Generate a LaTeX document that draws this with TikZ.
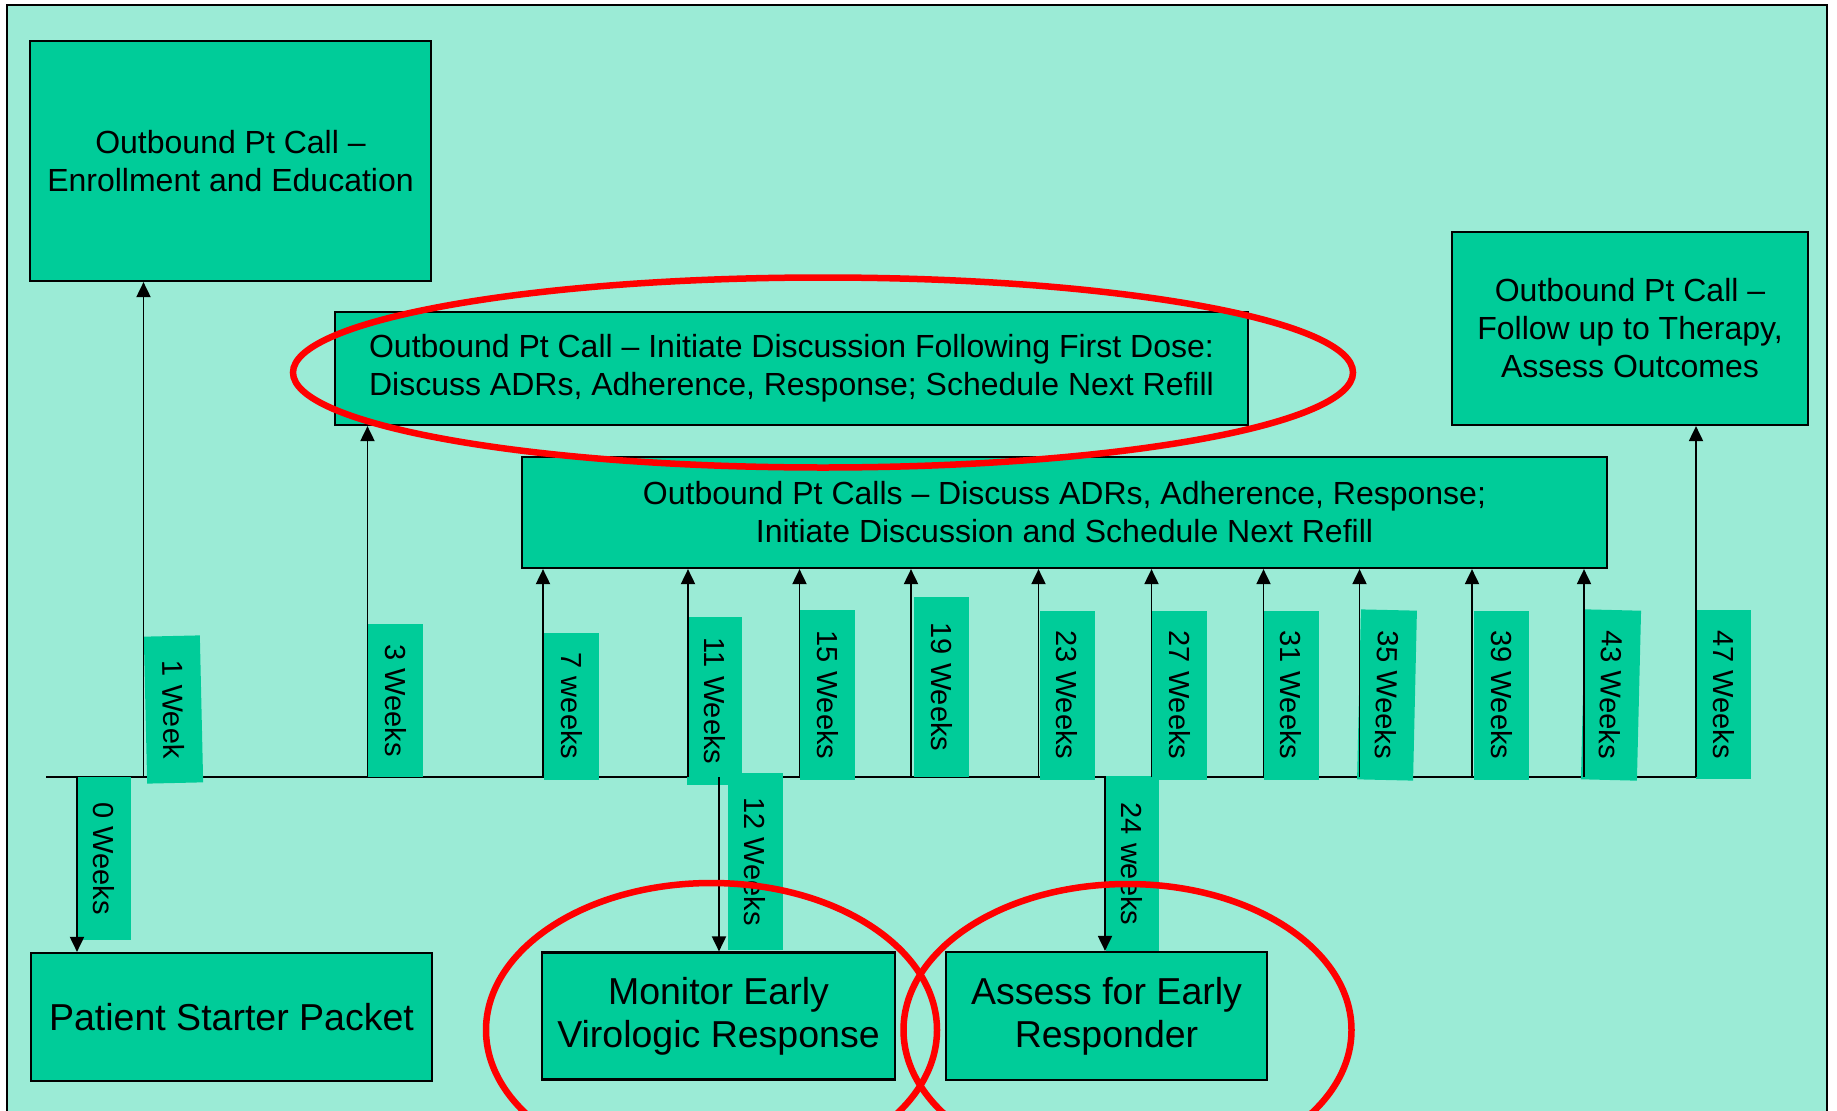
\documentclass[tikz,border=0pt]{standalone}
\usepackage{fontspec}
\setmainfont{Liberation Sans}
\usetikzlibrary{arrows.meta}
\definecolor{panel}{RGB}{155,235,214}
\definecolor{boxfill}{RGB}{0,204,153}
\begin{document}
\begin{tikzpicture}[x=1pt,y=-1pt,
  box/.style={draw=black, line width=2.2pt, fill=boxfill, align=center, inner sep=0pt,
    font=\fontsize{32}{38}\selectfont},
  bigbox/.style={box, font=\fontsize{37.5}{43}\selectfont},
  wk/.style={fill=boxfill, inner sep=0pt, minimum height=55pt,
    font=\fontsize{29}{30}\selectfont},
  arr/.style={line width=1.9pt, -{Triangle[length=15pt,width=14pt]}},
  ring/.style={draw=red, line width=6.5pt}]

\useasboundingbox (0,0) rectangle (1837,1111);
\clip (0,0) rectangle (1837,1111);
\fill[white] (0,0) rectangle (1837,1111);
\draw[line width=2.5pt, fill=panel] (7,5) rectangle (1827,1140);

% timeline
\coordinate (tlA) at (46,777);
\coordinate (tlB) at (1696,777);
\draw[line width=2.5pt] (tlA) -- (tlB);

% points on the timeline
\coordinate (t0)  at (77,777);
\coordinate (t1)  at (143.5,777);
\coordinate (t3)  at (367.5,777);
\coordinate (t7)  at (543,777);
\coordinate (t11) at (688,777);
\coordinate (t12) at (719,777);
\coordinate (t15) at (799.5,777);
\coordinate (t19) at (911,777);
\coordinate (t23) at (1038.5,777);
\coordinate (t24) at (1105,777);
\coordinate (t27) at (1151.5,777);
\coordinate (t31) at (1263.5,777);
\coordinate (t35) at (1359.5,777);
\coordinate (t39) at (1472,777);
\coordinate (t43) at (1584,777);
\coordinate (t47) at (1696,777);

% week labels
\node[wk, rotate=-90,   minimum width=163pt, minimum height=54pt] (w0)  at (104,858.5)  {0 Weeks};
\node[wk, rotate=-88.7, minimum width=147pt, minimum height=56pt] (w1)  at (173.5,709.5) {1 Week};
\node[wk, rotate=-90,   minimum width=153pt] (w3)  at (395.5,700.5) {3 Weeks};
\node[wk, rotate=-90,   minimum width=147pt] (w7)  at (571.5,706)   {7 weeks};
\node[wk, rotate=-90,   minimum width=168pt] (w11) at (714.5,701)   {11 Weeks};
\node[wk, rotate=-90,   minimum width=177pt] (w12) at (755,861.5)   {12 Weeks};
\node[wk, rotate=-90,   minimum width=170pt] (w15) at (827.5,695)   {15 Weeks};
\node[wk, rotate=-90,   minimum width=180pt] (w19) at (941.5,687)   {19 Weeks};
\node[wk, rotate=-90,   minimum width=169pt] (w23) at (1067,695)    {23 Weeks};
\node[wk, rotate=-90,   minimum width=176pt, minimum height=53pt] (w24) at (1132,864) {24 weeks};
\node[wk, rotate=-90,   minimum width=169pt] (w27) at (1179.5,695)  {27 Weeks};
\node[wk, rotate=-90,   minimum width=169pt] (w31) at (1291,695)    {31 Weeks};
\node[wk, rotate=-91.3, minimum width=170pt, minimum height=56pt] (w35) at (1387,695) {35 Weeks};
\node[wk, rotate=-90,   minimum width=169pt] (w39) at (1501.5,695)  {39 Weeks};
\node[wk, rotate=-91.4, minimum width=170pt, minimum height=56pt] (w43) at (1611,695) {43 Weeks};
\node[wk, rotate=-90,   minimum width=169pt] (w47) at (1723.5,694.5) {47 Weeks};

% activity boxes
\node[box, minimum width=401pt, minimum height=240pt] (enr) at (230.5,161)
  {Outbound Pt Call --\\Enrollment and Education};
\node[bigbox, minimum width=401pt, minimum height=128pt] (psp) at (231.5,1017)
  {Patient Starter Packet};
\node[box, minimum width=913pt, minimum height=113pt] (fd) at (791.5,368.5)
  {Outbound Pt Call -- Initiate Discussion Following First Dose:\\Discuss ADRs, Adherence, Response; Schedule Next Refill};
\node[box, minimum width=1085pt, minimum height=111pt] (calls) at (1064.5,512.5)
  {Outbound Pt Calls -- Discuss ADRs, Adherence, Response;\\Initiate Discussion and Schedule Next Refill};
\node[box, minimum width=356pt, minimum height=193pt] (fu) at (1630,328.5)
  {Outbound Pt Call --\\Follow up to Therapy,\\Assess Outcomes};
\node[bigbox, minimum width=353pt, minimum height=127pt] (mon) at (718.5,1016)
  {Monitor Early\\Virologic Response};
\node[bigbox, minimum width=321pt, minimum height=128pt] (ass) at (1106.5,1016)
  {Assess for Early\\Responder};

% connectors
\draw[arr] (t0)  -- (t0 |- psp.north);
\draw[arr] (t1)  -- (t1 |- enr.south);
\draw[arr] (t3)  -- (t3 |- fd.south);
\draw[arr] (t7)  -- (t7 |- calls.south);
\draw[arr] (t11) -- (t11 |- calls.south);
\draw[arr] (t15) -- (t15 |- calls.south);
\draw[arr] (t19) -- (t19 |- calls.south);
\draw[arr] (t23) -- (t23 |- calls.south);
\draw[arr] (t27) -- (t27 |- calls.south);
\draw[arr] (t31) -- (t31 |- calls.south);
\draw[arr] (t35) -- (t35 |- calls.south);
\draw[arr] (t39) -- (t39 |- calls.south);
\draw[arr] (t43) -- (t43 |- calls.south);
\draw[arr] (t47) -- (t47 |- fu.south);
\draw[arr] (t12) -- (t12 |- mon.north);
\draw[arr] (t24) -- (t24 |- ass.north);

% highlight rings
\draw[ring] (823,372.5) ellipse [x radius=530, y radius=95];
\draw[ring] (711.5,1030) ellipse [x radius=225.5, y radius=147];
\draw[ring] (1127.5,1030) ellipse [x radius=224, y radius=146];
\end{tikzpicture}
\end{document}
